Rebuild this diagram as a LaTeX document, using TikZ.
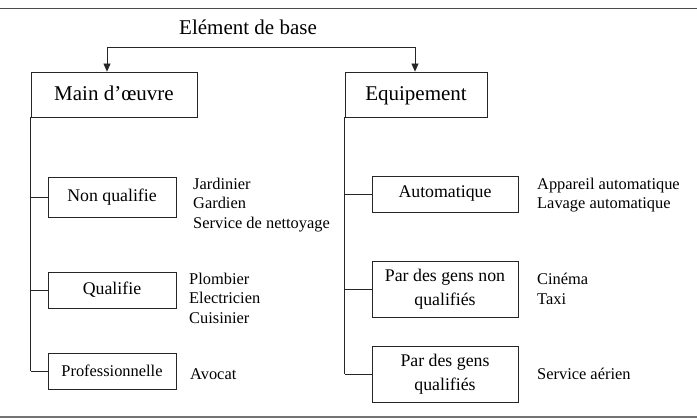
\documentclass[tikz,border=0pt]{standalone}
\usepackage{fontspec}
\setmainfont{Liberation Serif}
\usetikzlibrary{arrows.meta}

\begin{document}
\begin{tikzpicture}[x=1pt,y=-1pt,
    box/.style={draw=black!85,line width=0.8pt,inner sep=0pt,align=center},
    topbox/.style={box,minimum height=45pt,font=\fontsize{21}{25}\selectfont,text depth=0.25em},
    subbox/.style={box,font=\fontsize{17.8}{24}\selectfont},
    itemlist/.style={anchor=north west,inner sep=0pt,align=left,font=\fontsize{16.4}{19.5}\selectfont},
    wire/.style={draw=black!85,line width=0.8pt},
    tip/.tip={Triangle[width=7pt,length=8pt]}]
    \def\leftw{128pt}
    \def\rightw{146pt}

    \useasboundingbox (0,0) rectangle (697,419);
    \draw[black!70,line width=1pt] (0,9) -- (697,9);
    \draw[black!55,line width=2pt] (0,417) -- (697,417);

    % top level
    \node[font=\fontsize{21}{25}\selectfont,anchor=base,inner sep=0pt] (base) at (248,34.3) {Elément de base};
    \node[topbox,minimum width=166pt] (main) at (114,94.5) {Main d’œuvre};
    \node[topbox,minimum width=142pt] (equip) at (416,94.5) {Equipement};

    \coordinate (tl) at (107,47);
    \coordinate (tr) at (415,47);
    \draw[wire,tip-tip] (tl |- main.north) -- (tl) -- (tr) -- (tr |- equip.north);

    % left branch
    \node[subbox,minimum width=\leftw,minimum height=40pt] (nq) at (112,197) {Non qualifie};
    \node[subbox,minimum width=\leftw,minimum height=36pt] (ql) at (112,290) {Qualifie};
    \node[subbox,minimum width=\leftw,minimum height=36pt,font=\fontsize{16.4}{20}\selectfont] (pro) at (112,371) {Professionnelle};
    \draw[wire] (main.south west) -- (main.south west |- pro.west);
    \foreach \b in {nq,ql,pro} {
        \draw[wire] (main.south west |- \b.west) -- (\b.west);
    }

    % right branch
    \node[subbox,minimum width=\rightw,minimum height=36pt] (auto) at (445,194) {Automatique};
    \node[subbox,minimum width=\rightw,minimum height=56pt] (pnq) at (445,289) {Par des gens non\\qualifiés};
    \node[subbox,minimum width=\rightw,minimum height=56pt] (pq) at (445,374) {Par des gens\\qualifiés};
    \draw[wire] (equip.south west) -- (equip.south west |- pq.west);
    \foreach \b in {auto,pnq,pq} {
        \draw[wire] (equip.south west |- \b.west) -- (\b.west);
    }

    % examples
    \node[itemlist] (nqlist) at (193,177.8) {Jardinier\\Gardien\\Service de nettoyage};
    \node[itemlist] (qllist) at (189,272.8) {Plombier\\Electricien\\Cuisinier};
    \node[itemlist] (prolist) at (190,368) {Avocat};
    \node[itemlist] (autolist) at (537,177.8) {Appareil automatique\\Lavage automatique};
    \node[itemlist] (pnqlist) at (537,273) {Cinéma\\Taxi};
    \node[itemlist] (pqlist) at (537,368) {Service aérien};
\end{tikzpicture}
\end{document}
